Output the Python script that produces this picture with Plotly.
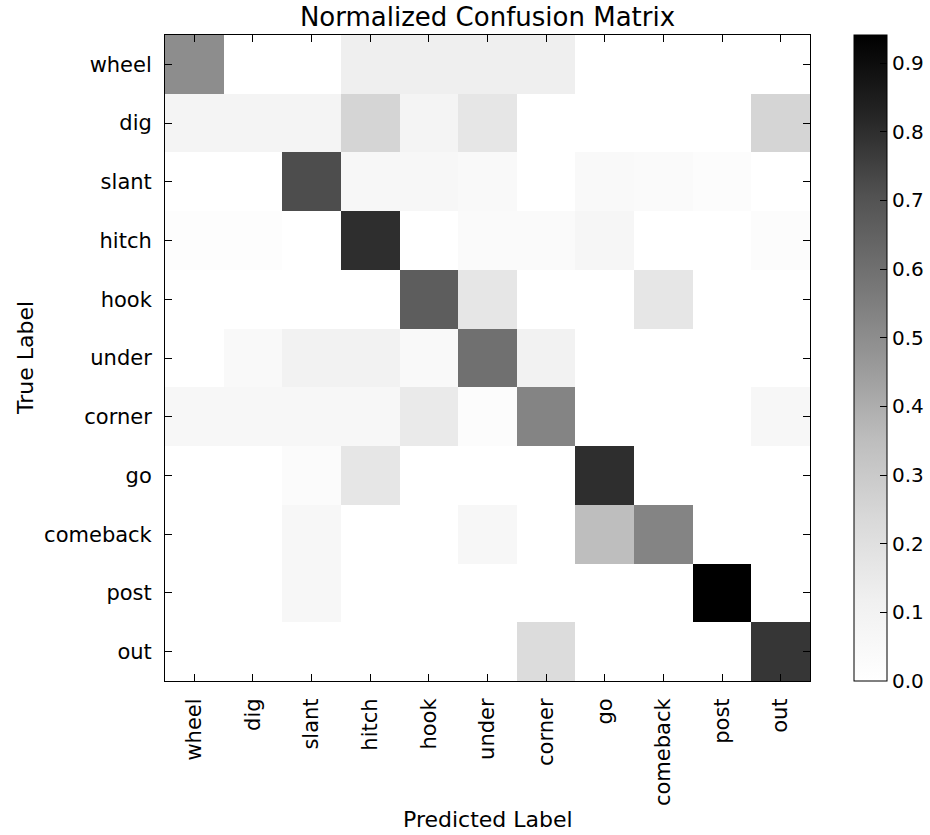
import plotly.graph_objects as go

labels = ["wheel", "dig", "slant", "hitch", "hook", "under", "corner", "go", "comeback", "post", "out"]

# rows = true label, columns = predicted label
row_wheel    = [0.50, 0.00, 0.00, 0.125, 0.125, 0.125, 0.125, 0.00, 0.00, 0.00, 0.00]
row_dig      = [0.083, 0.083, 0.083, 0.25, 0.083, 0.167, 0.00, 0.00, 0.00, 0.00, 0.25]
row_slant    = [0.00, 0.00, 0.72, 0.06, 0.06, 0.05, 0.00, 0.05, 0.04, 0.02, 0.00]
row_hitch    = [0.015, 0.015, 0.00, 0.80, 0.00, 0.04, 0.04, 0.07, 0.00, 0.00, 0.02]
row_hook     = [0.00, 0.00, 0.00, 0.00, 0.667, 0.167, 0.00, 0.00, 0.167, 0.00, 0.00]
row_under    = [0.00, 0.05, 0.10, 0.10, 0.05, 0.60, 0.10, 0.00, 0.00, 0.00, 0.00]
row_corner   = [0.06, 0.06, 0.06, 0.06, 0.15, 0.02, 0.53, 0.00, 0.00, 0.00, 0.06]
row_go       = [0.00, 0.00, 0.03, 0.17, 0.00, 0.00, 0.00, 0.80, 0.00, 0.00, 0.00]
row_comeback = [0.00, 0.00, 0.06, 0.00, 0.00, 0.06, 0.00, 0.35, 0.53, 0.00, 0.00]
row_post     = [0.00, 0.00, 0.059, 0.00, 0.00, 0.00, 0.00, 0.00, 0.00, 0.941, 0.00]
row_out      = [0.00, 0.00, 0.00, 0.00, 0.00, 0.00, 0.22, 0.00, 0.00, 0.00, 0.78]

matrix = [row_wheel, row_dig, row_slant, row_hitch, row_hook, row_under,
          row_corner, row_go, row_comeback, row_post, row_out]

cbar_ticks = [0.0, 0.1, 0.2, 0.3, 0.4, 0.5, 0.6, 0.7, 0.8, 0.9]

# matplotlib "Greys" colormap
greys = [
    [0.000, "rgb(255,255,255)"],
    [0.125, "rgb(240,240,240)"],
    [0.250, "rgb(217,217,217)"],
    [0.375, "rgb(189,189,189)"],
    [0.500, "rgb(150,150,150)"],
    [0.625, "rgb(115,115,115)"],
    [0.750, "rgb(82,82,82)"],
    [0.875, "rgb(37,37,37)"],
    [1.000, "rgb(0,0,0)"],
]

zmax = max(max(r) for r in matrix)
FONT = "DejaVu Sans"

fig = go.Figure(go.Heatmap(
    z=matrix, x=labels, y=labels,
    colorscale=greys, zmin=0, zmax=zmax,
    colorbar=dict(
        x=(854 - 165) / 645, xanchor="left", xpad=0,
        y=0.5, yanchor="middle", len=1, lenmode="fraction", ypad=0,
        thickness=33, outlinewidth=1, outlinecolor="black",
        ticks="inside", ticklen=7, tickcolor="black",
        tickvals=cbar_ticks, ticktext=[f"{t:.1f}" for t in cbar_ticks],
        tickfont=dict(family=FONT, size=20, color="black"),
    ),
))

axis_common = dict(
    showline=True, linecolor="black", linewidth=1, mirror="allticks",
    ticks="inside", ticklen=7, tickcolor="black", tickwidth=1,
    showgrid=False, zeroline=False,
    tickfont=dict(family=FONT, size=21, color="black"),
)

fig.update_layout(
    width=930, height=835,
    margin=dict(l=165, r=120, t=35, b=154, autoexpand=False),
    paper_bgcolor="white", plot_bgcolor="white",
    font=dict(family=FONT, color="black"),
    title=dict(text="Normalized Confusion Matrix", x=0.5, xref="paper", xanchor="center",
               y=1 - 17 / 835, yref="container", yanchor="middle",
               font=dict(family=FONT, size=26, color="black")),
    xaxis=dict(**axis_common, tickangle=-90, ticklabelstandoff=8, automargin=False),
    yaxis=dict(**axis_common, autorange="reversed", ticklabelstandoff=8, automargin=False),
    annotations=[
        dict(text="Predicted Label", xref="paper", yref="paper", x=0.5, y=1 - (819 - 35) / 646,
             xanchor="center", yanchor="middle", showarrow=False,
             font=dict(family=FONT, size=22, color="black")),
        dict(text="True Label", xref="paper", yref="paper", x=(25 - 165) / 645, y=0.5,
             xanchor="center", yanchor="middle", textangle=-90, showarrow=False,
             font=dict(family=FONT, size=22, color="black")),
    ],
)

fig.write_html(
    "out.html",
    config={"displayModeBar": False},
    post_script="document.body.style.margin='0';document.body.style.padding='0';"
                "document.body.style.overflow='hidden';"
                "document.documentElement.style.overflow='hidden';",
)
